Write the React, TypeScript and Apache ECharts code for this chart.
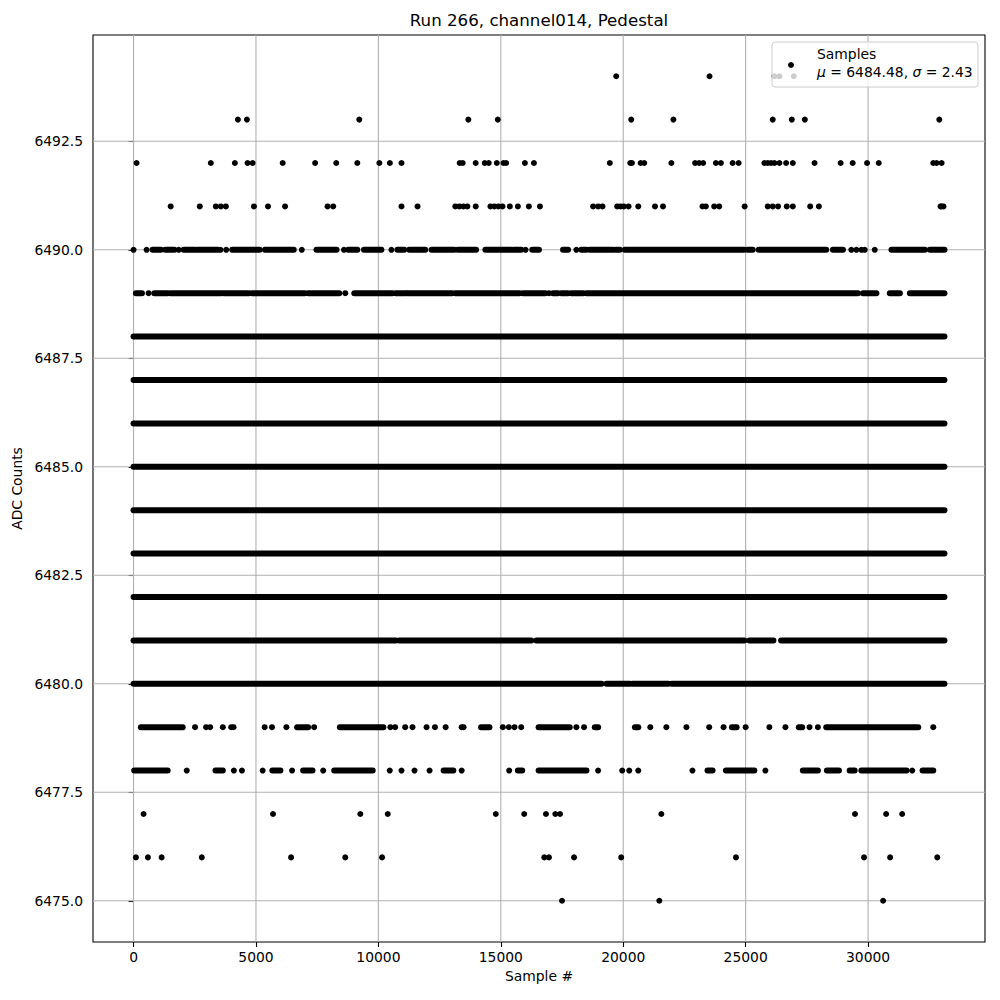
import React, { useEffect, useRef } from "react";
import * as echarts from "echarts";

// ---- Chart text ----
const runNumber = 266;
const channelName = "channel014";
const plotKind = "Pedestal";
const seriesName = "Samples";
const meanAdc = 6484.48;
const sigmaAdc = 2.43;

// ---- Axes ----
const xTicks = [0, 5000, 10000, 15000, 20000, 25000, 30000];
const yTicks = [6475, 6477.5, 6480, 6482.5, 6485, 6487.5, 6490, 6492.5];
const xRange = [-1656, 34776];
const yRange = [6474.05, 6494.95];

// ---- Isolated samples (Sample #) at each ADC level ----
const dots6494 = [19713, 23525, 26175, 26380, 26967];
const dots6493 = [4262, 4631, 9220, 13675, 14877, 20327, 22049, 26106, 26885, 27418, 32909];
const dots6492 = [123, 3155, 4139, 4658, 4863, 6092, 7417, 8278, 9139, 10040, 10470, 10943, 13320, 13443, 13975, 14344, 14508, 14836, 15109, 15218, 15983, 16352, 19453, 20286, 20355, 20710, 20860, 21967, 22937, 23101, 23265, 23784, 23989, 24467, 24713, 25765, 25902, 26038, 26175, 26380, 26653, 26926, 27814, 28879, 29371, 29959, 30437, 32663, 32800, 33005];
const dots6491 = [1516, 2705, 3360, 3565, 3770, 4918, 5491, 6188, 7923, 8155, 10943, 11599, 13142, 13306, 13470, 13634, 13975, 14577, 14740, 14904, 15068, 15369, 15697, 16147, 16598, 18770, 18975, 19153, 19754, 19890, 20027, 20218, 20614, 21297, 21625, 23238, 23374, 23716, 23921, 24959, 25902, 26106, 26325, 26680, 26926, 27636, 27991, 32960, 33005, 33080];
const dots6490 = [0, 533, 1844, 3552, 3784, 6871, 8592, 10533, 16011, 18087, 29317, 29522, 29727, 29863, 30273];
const dots6489 = [615, 8647, 16967];
const dots6479 = [2513, 2964, 3128, 3647, 3989, 4084, 5355, 5655, 6243, 7377, 10490, 10684, 11094, 11394, 11967, 12309, 12746, 13400, 13480, 15082, 15328, 15560, 15833, 18087, 18401, 21106, 21762, 22582, 23511, 24098, 25000, 25970, 26625, 27609, 27951, 32663];
const dots6478 = [2172, 4098, 4426, 5273, 6475, 7745, 10465, 10943, 11476, 12090, 13402, 15342, 18975, 19959, 20246, 20614, 22828, 25806, 31803];
const dots6477 = [410, 5696, 9261, 10382, 14795, 15956, 16844, 17227, 17418, 21557, 29467, 30737, 31393];
const dots6476 = [96, 587, 1147, 2787, 6434, 8647, 10150, 16776, 16967, 17991, 19918, 24604, 29836, 30901, 32827];
const dots6475 = [17500, 21475, 30614];

// ---- Runs of overlapping samples [first Sample #, last Sample #] at each ADC level ----
const runs6490 = [[779, 1120], [1298, 1667], [2049, 2527], [2623, 3442], [4030, 5150], [5368, 6543], [7472, 8292], [8770, 9139], [9412, 10122], [10779, 11052], [11257, 11913], [12172, 13101], [13238, 13989], [14372, 15424], [15519, 15833], [16284, 16557], [17541, 17746], [18292, 18497], [18634, 19590], [19699, 19863], [20068, 24945], [25082, 25287], [25533, 28292], [28565, 28975], [30956, 32322], [32527, 33120]];
const runs6489 = [[96, 342], [847, 1393], [1503, 3579], [3675, 4713], [4836, 6994], [7131, 8401], [9016, 10574], [10711, 11121], [11189, 13006], [13142, 15765], [15902, 16817], [17131, 17336], [17473, 17746], [17882, 18361], [18497, 29590], [29795, 30341], [30888, 31298], [31707, 33120]];
const runs6488 = [[0, 33120]];
const runs6487 = [[0, 33120]];
const runs6486 = [[0, 33120]];
const runs6485 = [[0, 33120]];
const runs6484 = [[0, 33120]];
const runs6483 = [[0, 33120]];
const runs6482 = [[0, 33120]];
const runs6481 = [[0, 10711], [10847, 16243], [16448, 24740], [24809, 24945], [25150, 26134], [26448, 33120]];
const runs6480 = [[0, 19112], [19317, 20273], [20382, 21843], [21980, 33120]];
const runs6479 = [[300, 2008], [6680, 7131], [8428, 10204], [14194, 14536], [16544, 17814], [18839, 18975], [20478, 20614], [24440, 24631], [27172, 27309], [28292, 32049]];
const runs6478 = [[27, 1393], [3347, 3647], [5669, 5997], [6926, 7308], [8196, 9767], [12664, 13060], [15697, 15874], [16544, 18497], [23443, 23648], [24194, 25355], [27336, 27951], [28319, 28811], [29248, 29453], [29726, 31571], [32226, 32663]];

const dotLevels: [number, number[]][] = [
  [6494, dots6494], [6493, dots6493], [6492, dots6492], [6491, dots6491],
  [6490, dots6490], [6489, dots6489], [6479, dots6479], [6478, dots6478],
  [6477, dots6477], [6476, dots6476], [6475, dots6475],
];
const runLevels: [number, number[][]][] = [
  [6490, runs6490], [6489, runs6489], [6488, runs6488], [6487, runs6487],
  [6486, runs6486], [6485, runs6485], [6484, runs6484], [6483, runs6483],
  [6482, runs6482], [6481, runs6481], [6480, runs6480], [6479, runs6479],
  [6478, runs6478],
];

const FONT = "DejaVu Sans";
const FS = 13.89;
const MARK = 6;

export default function App() {
  const ref = useRef<HTMLDivElement>(null);

  useEffect(() => {
    if (!ref.current) return;
    const chart = echarts.init(ref.current, null, { renderer: "svg" });

    const dotData: number[][] = [];
    dotLevels.forEach(([lvl, xs]) => xs.forEach((x) => dotData.push([x, lvl])));
    const runData: number[][] = [];
    runLevels.forEach(([lvl, rs]) => rs.forEach(([a, b]) => runData.push([a, b, lvl])));

    const option: any = {
      animation: false,
      backgroundColor: "#ffffff",
      textStyle: { fontFamily: FONT },
      title: {
        text: `Run ${runNumber}, ${channelName}, ${plotKind}`,
        left: 539,
        top: 12,
        padding: 0,
        textAlign: "center",
        textStyle: { fontFamily: FONT, fontSize: 16.67, fontWeight: "normal", color: "#000" },
      },
      grid: {
        left: 93,
        right: 15,
        top: 35,
        bottom: 58,
        show: true,
        borderColor: "#000",
        borderWidth: 1.1,
        backgroundColor: "transparent",
      },
      xAxis: {
        type: "value",
        min: xRange[0],
        max: xRange[1],
        name: "Sample #",
        nameLocation: "middle",
        nameGap: 25,
        nameTextStyle: { fontFamily: FONT, fontSize: FS, color: "#000" },
        axisLine: { show: false },
        splitLine: { show: false },
        axisTick: { show: true, customValues: xTicks, length: 5, lineStyle: { color: "#000", width: 1.1 } },
        axisLabel: {
          customValues: xTicks,
          margin: 8,
          fontFamily: FONT,
          fontSize: FS,
          color: "#000",
          formatter: (v: number) => String(v),
        },
      },
      yAxis: {
        type: "value",
        min: yRange[0],
        max: yRange[1],
        name: "ADC Counts",
        nameLocation: "middle",
        nameGap: 60,
        nameTextStyle: { fontFamily: FONT, fontSize: FS, color: "#000" },
        axisLine: { show: false },
        splitLine: { show: false },
        axisTick: { show: true, customValues: yTicks, length: 5, lineStyle: { color: "#000", width: 1.1 } },
        axisLabel: {
          customValues: yTicks,
          margin: 10,
          fontFamily: FONT,
          fontSize: FS,
          color: "#000",
          formatter: (v: number) => v.toFixed(1),
        },
      },
      series: [
        {
          name: "xgrid",
          type: "custom",
          silent: true,
          z: 1,
          encode: { x: 0, y: [1, 2] },
          data: xTicks.map((v) => [v, yRange[0], yRange[1]]),
          renderItem: (_p: any, api: any) => {
            const a = api.coord([api.value(0), api.value(1)]);
            const b = api.coord([api.value(0), api.value(2)]);
            return {
              type: "line",
              shape: { x1: a[0], y1: a[1], x2: b[0], y2: b[1] },
              style: { stroke: "#b0b0b0", lineWidth: 1.1 },
            };
          },
        },
        {
          name: "ygrid",
          type: "custom",
          silent: true,
          z: 1,
          encode: { x: [0, 1], y: 2 },
          data: yTicks.map((v) => [xRange[0], xRange[1], v]),
          renderItem: (_p: any, api: any) => {
            const a = api.coord([api.value(0), api.value(2)]);
            const b = api.coord([api.value(1), api.value(2)]);
            return {
              type: "line",
              shape: { x1: a[0], y1: a[1], x2: b[0], y2: b[1] },
              style: { stroke: "#b0b0b0", lineWidth: 1.1 },
            };
          },
        },
        {
          name: "SampleRuns",
          type: "custom",
          silent: true,
          z: 2,
          encode: { x: [0, 1], y: 2 },
          data: runData,
          renderItem: (_p: any, api: any) => {
            const y = api.value(2);
            const a = api.coord([api.value(0), y]);
            const b = api.coord([api.value(1), y]);
            return {
              type: "line",
              shape: { x1: a[0], y1: a[1], x2: b[0], y2: b[1] },
              style: { stroke: "#000", lineWidth: MARK, lineCap: "round", opacity: 1 },
            };
          },
        },
        {
          name: seriesName,
          type: "scatter",
          silent: true,
          z: 3,
          symbol: "circle",
          symbolSize: MARK,
          itemStyle: { color: "#000", opacity: 1 },
          data: dotData,
        },
      ],
      graphic: [
        {
          type: "rect",
          z: 100,
          silent: true,
          shape: { x: 772, y: 42, width: 206, height: 45, r: 3 },
          style: { fill: "rgba(255,255,255,0.8)", stroke: "#cccccc", lineWidth: 1 },
        },
        {
          type: "circle",
          z: 101,
          silent: true,
          shape: { cx: 791, cy: 65, r: MARK / 2 },
          style: { fill: "#000" },
        },
        {
          type: "text",
          z: 101,
          silent: true,
          x: 817,
          y: 54,
          style: {
            text: seriesName,
            font: `${FS}px "${FONT}"`,
            fill: "#000",
            verticalAlign: "middle",
          },
        },
        {
          type: "text",
          z: 101,
          silent: true,
          x: 817,
          y: 72,
          style: {
            text: `{i|μ} = ${meanAdc.toFixed(2)}, {i|σ} = ${sigmaAdc.toFixed(2)}`,
            font: `${FS}px "${FONT}"`,
            fill: "#000",
            verticalAlign: "middle",
            rich: {
              i: { fontStyle: "italic", fontFamily: FONT, fontSize: FS, fill: "#000" },
            },
          },
        },
      ],
    };

    chart.setOption(option);
    return () => chart.dispose();
  }, []);

  return (
    <div
      ref={ref}
      style={{ position: "absolute", left: 0, top: 0, width: 1000, height: 1000 }}
    />
  );
}
